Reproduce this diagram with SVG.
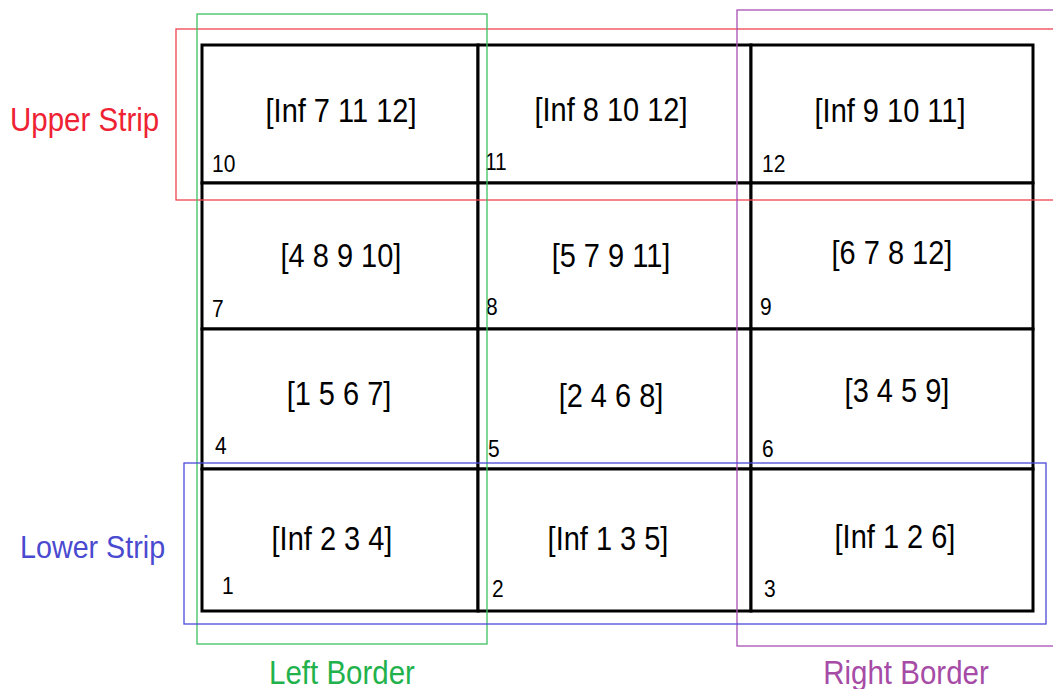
<svg xmlns="http://www.w3.org/2000/svg" width="1053" height="689" viewBox="0 0 1053 689">
<style>
.cell{fill:#fff;stroke:#000;stroke-width:3}
.t{font-family:"Liberation Sans",Arial,sans-serif;transform-box:fill-box;transform-origin:center;transform:scaleY(1.12)}
.big{font-size:29px;text-anchor:middle;fill:#000}
.num{font-size:21px;fill:#000}
.lab{font-size:29.5px}
.reg{fill:none;stroke-width:1.3}
</style>
<rect width="1053" height="689" fill="#fff"/>
<g id="cells">
<g id="cell10"><rect class="cell" x="202" y="45" width="276" height="138"/><text class="t big" x="341" y="121">[Inf 7 11 12]</text><text class="t num" x="212" y="171">10</text></g>
<g id="cell11"><rect class="cell" x="478" y="45" width="273" height="138"/><text class="t big" x="611" y="120">[Inf 8 10 12]</text><text class="t num" x="485" y="169">11</text></g>
<g id="cell12"><rect class="cell" x="751" y="45" width="282" height="138"/><text class="t big" x="890" y="121">[Inf 9 10 11]</text><text class="t num" x="762" y="171">12</text></g>
<g id="cell7"><rect class="cell" x="202" y="183" width="276" height="146"/><text class="t big" x="341" y="266">[4 8 9 10]</text><text class="t num" x="212" y="316">7</text></g>
<g id="cell8"><rect class="cell" x="478" y="183" width="273" height="146"/><text class="t big" x="611" y="266">[5 7 9 11]</text><text class="t num" x="486" y="314">8</text></g>
<g id="cell9"><rect class="cell" x="751" y="183" width="282" height="146"/><text class="t big" x="892" y="263">[6 7 8 12]</text><text class="t num" x="760" y="314">9</text></g>
<g id="cell4"><rect class="cell" x="202" y="329" width="276" height="140"/><text class="t big" x="339" y="404">[1 5 6 7]</text><text class="t num" x="215" y="453">4</text></g>
<g id="cell5"><rect class="cell" x="478" y="329" width="273" height="140"/><text class="t big" x="611" y="406">[2 4 6 8]</text><text class="t num" x="488" y="456">5</text></g>
<g id="cell6"><rect class="cell" x="751" y="329" width="282" height="140"/><text class="t big" x="897" y="401">[3 4 5 9]</text><text class="t num" x="762" y="456">6</text></g>
<g id="cell1"><rect class="cell" x="202" y="469" width="276" height="142"/><text class="t big" x="332" y="549">[Inf 2 3 4]</text><text class="t num" x="222" y="593">1</text></g>
<g id="cell2"><rect class="cell" x="478" y="469" width="273" height="142"/><text class="t big" x="608" y="549">[Inf 1 3 5]</text><text class="t num" x="492" y="596">2</text></g>
<g id="cell3"><rect class="cell" x="751" y="469" width="282" height="142"/><text class="t big" x="895" y="547">[Inf 1 2 6]</text><text class="t num" x="764" y="596">3</text></g>
</g>
<g id="upper-strip"><rect class="reg" x="176" y="29" width="900" height="171" stroke="#ee4450"/><text class="t lab" x="10" y="130" fill="#ee2233">Upper Strip</text></g>
<g id="left-border"><rect class="reg" x="197" y="14" width="290" height="630" stroke="#3cc060"/><text class="t lab" x="342" y="683" text-anchor="middle" fill="#22b24c">Left Border</text></g>
<g id="right-border"><rect class="reg" x="737" y="10" width="340" height="636" stroke="#a84fb4"/><text class="t lab" x="906" y="683" text-anchor="middle" fill="#a64ca6">Right Border</text></g>
<g id="lower-strip"><rect class="reg" x="184" y="463" width="862" height="161" stroke="#4a4ad8"/><text class="t lab" x="20" y="557" fill="#4a4ad0" style="font-size:28.7px">Lower Strip</text></g>
<g id="connectors"/>
</svg>
